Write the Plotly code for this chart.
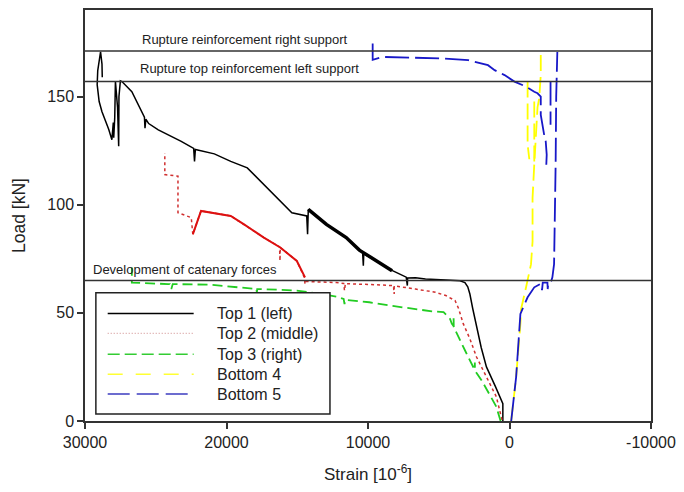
import plotly.graph_objects as go

# ---- data (strain in 1e-6, load in kN) ----
top1_strain = [470, 470, 1000, 1630, 2000, 2330, 2600, 2800, 2950, 3150, 3500, 4500, 5940, 6640, 7200, 7220, 7300,
               8270, 9440, 10300, 10330, 10380, 10610, 11540, 12940, 14220, 14270, 14330, 15380, 16430, 17360, 18530,
               19700, 20860, 22200, 22260, 22320, 23200, 24820, 25500, 25700, 25760, 25800, 26690, 27390, 27500,
               27600, 27620, 27700, 27850, 27900, 27970, 28000, 28100, 28320, 28500, 28800, 29000, 29140, 29100,
               29000, 28900, 28800, 28780]
top1_load = [0, 8, 16, 25, 34, 43.4, 52, 58.7, 62, 64, 64.8, 65.2, 65.6, 66.2, 66.1, 62.6, 66.5,
             69.5, 74, 77.3, 71.8, 77.8, 79, 84.8, 90.9, 97.8, 86.3, 94.8, 96.3, 103.2, 109.3, 117,
             120, 123.5, 125.5, 120, 126, 129.3, 134.6, 137.5, 139.5, 135.4, 140.5, 152.2, 156.9, 157.2,
             150, 127, 145, 157, 140, 131, 138, 130, 134.8, 138, 143, 147.7, 155.5, 162,
             167.6, 170.7, 165, 158.9]
# dense noisy band of Top 1
top1_band_strain = [8300, 9440, 10610, 11540, 12940, 14220]
top1_band_load = [69.5, 74, 79, 84.8, 90.9, 97.8]

top2_strain = [530, 930, 1600, 2330, 2800, 3270, 3600, 3850, 4500, 5240, 6640, 7800, 8150, 8150, 8200, 9500,
               11600, 11660, 11720, 12240, 13500, 14400, 14450, 14500, 15030, 16200, 16220, 16250, 17360, 18760,
               19700, 21800, 22380, 22490, 23430, 23430, 24360, 24360]
top2_load = [0.5, 11.2, 20, 29.6, 38, 45, 52, 55.7, 58, 59.5, 61, 62, 62.5, 58.7, 62.6, 63,
             63.5, 60.3, 63.6, 64, 64.2, 64.5, 63.3, 66.4, 74, 80.2, 74, 80.5, 84.8, 90.9,
             94.8, 97.1, 86.3, 94, 96.3, 113.2, 113.9, 123.9]
# dense noisy band of Top 2
top2_band_strain = [14450, 15030, 16200, 17360, 18760, 19700, 21800, 22380]
top2_band_load = [66.4, 74, 80.2, 84.8, 90.9, 94.8, 97.1, 86.3]

top3_strain = [630, 930, 1980, 2440, 2450, 2460, 3150, 3940, 3950, 3960, 4080, 4200, 4660, 5480, 7500, 9910,
               11600, 11660, 11720, 12240, 14100, 15030, 17600, 17830, 17850, 17900, 21100, 23800, 23900, 24000,
               24130, 26690, 26690]
top3_load = [0, 6.6, 18.9, 23.3, 27, 23.6, 32.7, 43.5, 47.5, 44, 45, 47.2, 50.3, 50.7, 52.5, 54.9,
             56, 54, 56.4, 57.5, 59.5, 60.3, 61, 61, 59.5, 61, 63, 63.3, 61, 63.3,
             63.3, 64, 71]

bot4_strain = [-120, -470, -770, -820, -1170, -1300, -1520, -1630, -1630, -1750, -1860, -1980, -2100, -2210, -2210,
               None, -1280, -1280, -1400, None, -1750, -1750]
bot4_load = [0, 20.4, 45, 51.8, 61.8, 66, 72.5, 83, 103.2, 118.5, 133.9, 145, 149.2, 160, 170.6,
             None, 157, 127.8, 121, None, 147.7, 120]

bot5_strain = [-120, -470, -770, -1280, -1750, -2210, -2300, -2350, -2680, -2700, -2750, -2960, -3030, -3150,
               -3260, -3300, -3380,
               None, -2900, -2900,
               None, -2600, -2630, -2560, -2450, -2210, -2210, -1980, -1750, -1170, -350, 350, 1050, 1520, 2910,
               4780, 8970, 9670, 9670]
bot5_load = [0, 20.4, 49.5, 57.2, 61.8, 63.5, 60.5, 64, 64, 61, 64.2, 64.9, 66.4, 72.5,
             118.5, 150, 170.6,
             None, 157, 137,
             None, 118.5, 123.1, 129.3, 132.3, 141.5, 150, 151.5, 152.2, 154.6, 156.9, 159.9, 162.2, 164.5, 166.8,
             167.6, 168.3, 167, 174.5]

series_names = ["Top 1 (left)", "Top 2 (middle)", "Top 3 (right)", "Bottom 4", "Bottom 5"]

ref_lines = [171, 157, 65]
ref_texts = ["Rupture reinforcement right support", "Rupture top reinforcement left support",
             "Development of catenary forces"]
ref_text_x = [26100, 26290, 29600]
ref_text_y = [176.3, 162.8, 70.2]

x_ticks = [30000, 20000, 10000, 0, -10000]
y_ticks = [0, 50, 100, 150]

# ---- styles ----
plot_styles = [
    dict(color="black", width=1.5),
    dict(color="#D03030", width=1.5, dash="dot"),
    dict(color="#22CC22", width=1.8, dash="10px,5px"),
    dict(color="#FFFF00", width=1.8, dash="16px,6px"),
    dict(color="#1818C8", width=1.8, dash="24px,6px"),
]
legend_styles = [
    dict(color="black", width=1.3),
    dict(color="#D8A0A0", width=1.3, dash="1px,2px"),
    dict(color="#33CC33", width=1.5, dash="12px,5px"),
    dict(color="#FFFF33", width=1.5, dash="15px,13px"),
    dict(color="#3C3CC0", width=1.5, dash="22px,7px"),
]

xs = [top1_strain, top2_strain, top3_strain, bot4_strain, bot5_strain]
ys = [top1_load, top2_load, top3_load, bot4_load, bot5_load]

fig = go.Figure()
for name, x, y, st in zip(series_names, xs, ys, plot_styles):
    fig.add_trace(go.Scatter(x=x, y=y, mode="lines", name=name, line=st, showlegend=False))
fig.add_trace(go.Scatter(x=top1_band_strain, y=top1_band_load, mode="lines", showlegend=False,
                         line=dict(color="black", width=3.5)))
fig.add_trace(go.Scatter(x=top2_band_strain, y=top2_band_load, mode="lines", showlegend=False,
                         line=dict(color="#DD1010", width=2)))

for yv in ref_lines:
    fig.add_shape(type="line", xref="paper", x0=0, x1=1, yref="y", y0=yv, y1=yv,
                  line=dict(color="#333333", width=1.5))
for t, xv, yv in zip(ref_texts, ref_text_x, ref_text_y):
    fig.add_annotation(text=t, x=xv, y=yv, xanchor="left", yanchor="middle", showarrow=False,
                       font=dict(size=13, color="#222222"))

# ---- legend box (drawn in paper coordinates) ----
leg_x0, leg_x1, leg_y0, leg_y1 = 0.0192, 0.4328, 0.017, 0.3123
row_y = [0.2615, 0.2131, 0.1622, 0.1138, 0.0654]
fig.add_shape(type="rect", xref="paper", yref="paper", x0=leg_x0, x1=leg_x1, y0=leg_y0, y1=leg_y1,
              line=dict(color="#222222", width=1.5), fillcolor="white", layer="above")
for name, ry, st in zip(series_names, row_y, legend_styles):
    fig.add_shape(type="line", xref="paper", yref="paper", x0=0.0401, x1=0.1920, y0=ry, y1=ry,
                  line=st, layer="above")
    fig.add_annotation(text=name, xref="paper", yref="paper", x=0.2304, y=ry, xanchor="left",
                       yanchor="middle", showarrow=False, font=dict(size=16, color="#222222"))

axis_common = dict(showline=True, linecolor="#333333", linewidth=1.5, mirror=True, ticks="outside",
                   ticklen=6, tickwidth=1.5, tickcolor="#333333", showgrid=False, zeroline=False,
                   tickfont=dict(size=16, color="#222222"))
fig.update_xaxes(range=[30000, -10000], tickvals=x_ticks, ticktext=[str(v) for v in x_ticks],
                 title=dict(text="Strain [10<sup>-6</sup>]", font=dict(size=17, color="#222222"), standoff=18),
                 **axis_common)
fig.update_yaxes(range=[0, 190], tickvals=y_ticks,
                 title=dict(text="Load [kN]", font=dict(size=17.5, color="#222222"), standoff=17),
                 **axis_common)

fig.update_layout(
    width=684, height=492,
    margin=dict(l=85, r=26, t=8, b=71),
    paper_bgcolor="white", plot_bgcolor="white",
    font=dict(family="Liberation Sans, Arial, sans-serif", color="#222222"),
    showlegend=False,
)

fig.write_html("out.html")
